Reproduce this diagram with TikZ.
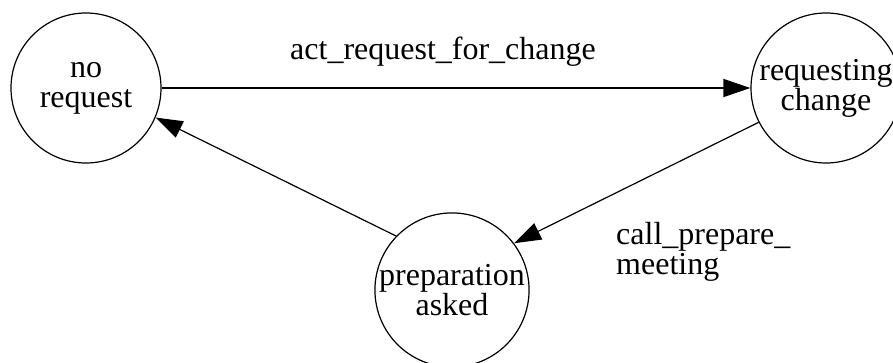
\documentclass[tikz,border=0pt]{standalone}
\usepackage{fontspec}
\setmainfont{Liberation Serif}
\usetikzlibrary{arrows.meta}
\begin{document}
\begin{tikzpicture}[x=1pt,y=-1pt,
  state/.style={circle,draw,line width=1.2pt,minimum size=150pt,inner sep=0pt,align=center,
    font=\fontsize{32}{30}\selectfont},
  lbl/.style={font=\fontsize{32}{30}\selectfont,inner sep=0pt},
  edge/.style={line width=1.2pt,-{Triangle[length=27pt,width=18pt]}}]
\useasboundingbox (0,0) rectangle (893,362);
\clip (0,0) rectangle (893,362);
\node[state] (a) at (86,88) {no\\request};
\node[state] (b) at (826,88) {requesting\\change};
\node[state] (c) at (452,290) {preparation\\asked};
\draw[edge] (a.east) -- (b.west);
\draw[edge] (b.207) -- (c.37);
\draw[edge] (c.136) -- (a.-23);
\node[lbl] (l1) at (443,52) {act\_request\_for\_change};
\node[lbl,align=left,anchor=west] (l2) at (616,252) {call\_prepare\_\\meeting};
\end{tikzpicture}
\end{document}
